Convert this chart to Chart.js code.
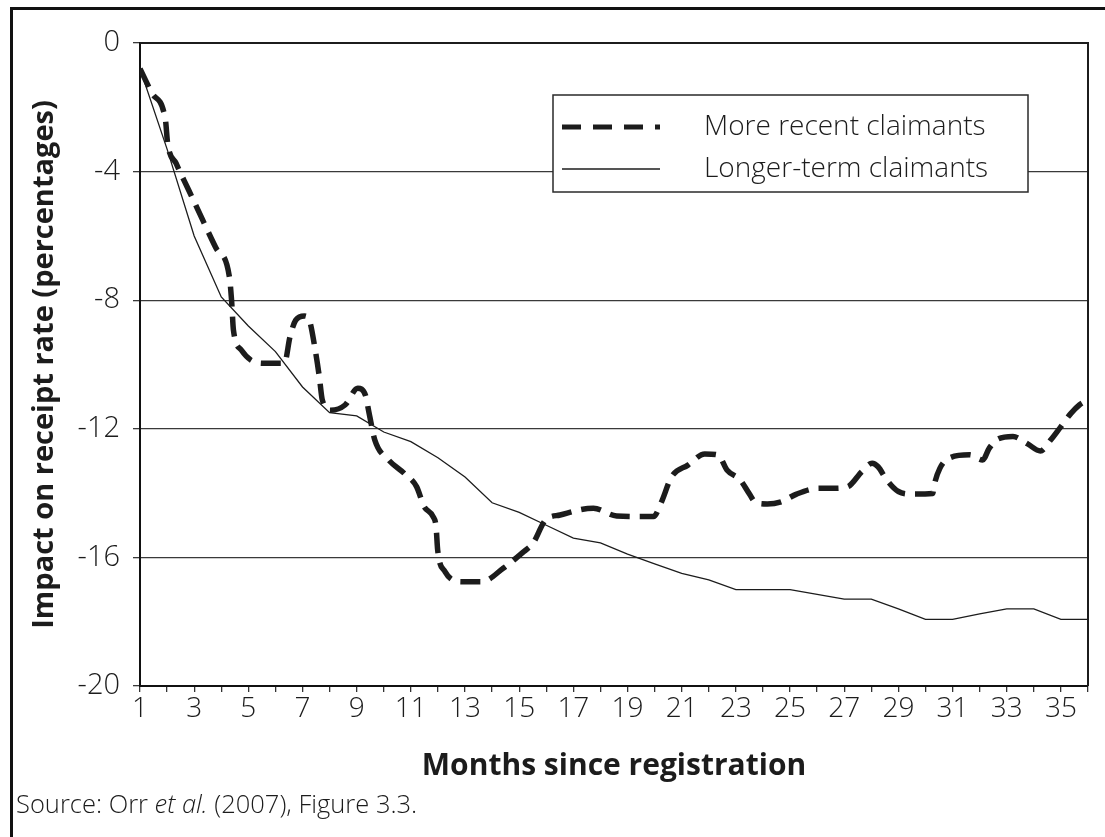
<!DOCTYPE html>
<html>
<head>
<meta charset="utf-8">
<script src="https://cdn.jsdelivr.net/npm/chart.js@4/dist/chart.umd.min.js"></script>
<style>
  html, body { margin: 0; padding: 0; background: #fff; }
  canvas { display: block; }
</style>
</head>
<body>
<canvas id="myChart" width="1105" height="837"></canvas>
<script>
// months since registration (solid line is monthly)
const months = [1, 2, 3, 4, 5, 6, 7, 8, 9, 10, 11, 12, 13, 14, 15, 16, 17, 18,
  19, 20, 21, 22, 23, 24, 25, 26, 27, 28, 29, 30, 31, 32, 33, 34, 35, 36]
const longerTermValues = [-0.8, -3.3, -6.0, -7.9, -8.8, -9.6, -10.7, -11.5, -11.6, -12.1, -12.4, -12.9,
  -13.5, -14.3, -14.6, -15.0, -15.4, -15.55, -15.9, -16.2, -16.5, -16.7, -17.0, -17.0,
  -17.0, -17.15, -17.3, -17.3, -17.6, -17.93, -17.93, -17.76, -17.6, -17.6, -17.93, -17.93]

// the dashed curve is drawn smoothed, so it is read at finer steps
const recentMonths = [1, 1.45, 1.94, 2.02, 2.33, 2.8, 3.3, 3.8, 4.3, 4.38, 4.45, 4.74, 5.09, 5.54, 6.33, 6.54, 6.75, 7.07,
  7.27, 7.47, 7.62, 7.73, 8.04, 8.57, 9.04, 9.32, 9.46, 9.67, 10.18, 10.76, 11.21, 11.49,
  11.82, 11.93, 11.99, 12.26, 12.89, 13.6, 14.41, 15.17, 15.51, 15.97, 16.51, 17.74, 18.6,
  19.96, 20.23, 20.63, 21.23, 21.85, 22.34, 22.67, 23.16, 23.48, 23.74, 24.16, 24.67, 25.24,
  26.07, 26.6, 27.13, 27.65, 28.03, 28.25, 28.57, 29.0, 29.5, 30.27, 30.31, 30.53, 30.93,
  31.63, 32.11, 32.35, 32.65, 33.23, 33.77, 34.24, 34.62, 35.0, 35.37, 35.68, 36]
const recentValues = [-0.8, -1.57, -2.4, -3.12, -3.74, -4.58, -5.48, -6.37, -7.27, -7.99, -8.93, -9.55, -9.86, -9.96, -9.96, -9.13,
  -8.62, -8.49, -8.67, -9.55, -10.38, -11.1, -11.42, -11.26, -10.74, -10.95, -11.52, -12.35,
  -12.97, -13.39, -13.8, -14.42, -14.73, -15.04, -15.77, -16.44, -16.76, -16.76, -16.34,
  -15.82, -15.56, -14.84, -14.68, -14.47, -14.71, -14.73, -14.32, -13.49, -13.13, -12.78,
  -12.81, -13.28, -13.59, -14.0, -14.3, -14.34, -14.27, -14.03, -13.85, -13.85, -13.8,
  -13.33, -13.07, -13.18, -13.59, -13.95, -14.03, -14.01, -13.8, -13.23, -12.89, -12.81,
  -12.97, -12.61, -12.33, -12.24, -12.47, -12.69, -12.35, -11.93, -11.52, -11.26, -11.1]

const yTicks = [0, -4, -8, -12, -16, -20]
const seriesLabels = ['More recent claimants', 'Longer-term claimants']

const ink = '#1c1c1c'
const fontName = '"Open Sans", "Noto Sans", sans-serif'

const recentData = recentMonths.map((m, i) => ({ x: m, y: recentValues[i] }))
const longerData = months.map((m, i) => ({ x: m, y: longerTermValues[i] }))

// frame, plot box, legend and source note
const extras = {
  id: 'extras',
  beforeDatasetsDraw(chart) {
    const { ctx, chartArea } = chart
    ctx.save()
    ctx.strokeStyle = ink
    ctx.lineWidth = 2
    ctx.beginPath()
    ctx.moveTo(chartArea.left, chartArea.top)
    ctx.lineTo(chartArea.right, chartArea.top)
    ctx.lineTo(chartArea.right, chartArea.bottom)
    ctx.stroke()
    ctx.restore()
  },
  afterDraw(chart) {
    const ctx = chart.ctx
    ctx.save()
    // outer frame (top and left edges only are in view)
    ctx.fillStyle = '#111'
    ctx.fillRect(10, 7, 1095, 3)
    ctx.fillRect(10, 7, 3, 830)

    // legend box
    ctx.fillStyle = '#fff'
    ctx.fillRect(553, 95, 475, 97)
    ctx.strokeStyle = '#2a2a2a'
    ctx.lineWidth = 1.5
    ctx.strokeRect(553, 95, 475, 97)

    const ds = chart.data.datasets
    ctx.strokeStyle = ink
    ctx.lineWidth = 5
    ctx.setLineDash([19, 12])
    ctx.beginPath()
    ctx.moveTo(562, 127)
    ctx.lineTo(660, 127)
    ctx.stroke()
    ctx.setLineDash([])
    ctx.lineWidth = 1.5
    ctx.beginPath()
    ctx.moveTo(562, 169)
    ctx.lineTo(660, 169)
    ctx.stroke()

    ctx.fillStyle = ink
    ctx.font = '300 28px ' + fontName
    ctx.textBaseline = 'middle'
    ctx.textAlign = 'left'
    ctx.fillText(ds[0].label, 704, 127)
    ctx.fillText(ds[1].label, 704, 169)

    // source note with italic "et al."
    let x = 16
    const y = 806
    ctx.font = '300 25.5px ' + fontName
    ctx.fillText('Source: Orr ', x, y)
    x += ctx.measureText('Source: Orr ').width
    ctx.font = 'italic 300 25.5px ' + fontName
    ctx.fillText('et al.', x, y)
    x += ctx.measureText('et al.').width
    ctx.font = '300 25.5px ' + fontName
    ctx.fillText(' (2007), Figure 3.3.', x, y)
    ctx.restore()
  }
}

const ctx = document.getElementById('myChart')
new Chart(ctx, {
  type: 'line',
  data: {
    datasets: [
      {
        label: seriesLabels[0],
        data: recentData,
        borderColor: ink,
        borderWidth: 5.5,
        borderDash: [20, 10],
        cubicInterpolationMode: 'monotone',
        pointRadius: 0,
        fill: false,
      },
      {
        label: seriesLabels[1],
        data: longerData,
        borderColor: ink,
        borderWidth: 1.3,
        tension: 0,
        pointRadius: 0,
        fill: false,
      },
    ],
  },
  options: {
    responsive: false,
    animation: false,
    devicePixelRatio: 1,
    layout: { padding: { top: 43, right: 17, left: 0, bottom: 0 } },
    plugins: {
      legend: { display: false },
      tooltip: { enabled: false },
    },
    scales: {
      x: {
        type: 'linear',
        min: 1,
        max: 36,
        afterFit(scale) { scale.height = 151 },
        afterBuildTicks(scale) { scale.ticks = months.map(m => ({ value: m })) },
        grid: { drawOnChartArea: false, drawTicks: true, tickLength: 6, color: '#333', lineWidth: 1.3 },
        border: { display: true, color: '#111', width: 2 },
        ticks: {
          autoSkip: false,
          maxRotation: 0,
          padding: 0,
          color: ink,
          font: { family: fontName, size: 28, weight: '300' },
          callback: v => (v % 2 === 1 ? String(v) : ''),
        },
        title: {
          display: true,
          text: 'Months since registration',
          color: ink,
          font: { family: fontName, size: 30, weight: 'bold' },
          padding: { top: 0, bottom: 53 },
        },
      },
      y: {
        min: -20,
        max: 0,
        afterFit(scale) { scale.width = 140 },
        afterBuildTicks(scale) { scale.ticks = yTicks.map(v => ({ value: v })) },
        grid: { color: '#3a3a3a', lineWidth: 1.3, drawTicks: true, tickLength: 7 },
        border: { display: true, color: '#111', width: 2 },
        ticks: {
          padding: 13,
          color: ink,
          font: { family: fontName, size: 29, weight: '300' },
        },
        title: {
          display: true,
          text: 'Impact on receipt rate (percentages)',
          color: ink,
          font: { family: fontName, size: 29, weight: 'bold' },
          padding: { top: 27, bottom: 0 },
        },
      },
    },
  },
  plugins: [extras],
})
</script>
</body>
</html>
